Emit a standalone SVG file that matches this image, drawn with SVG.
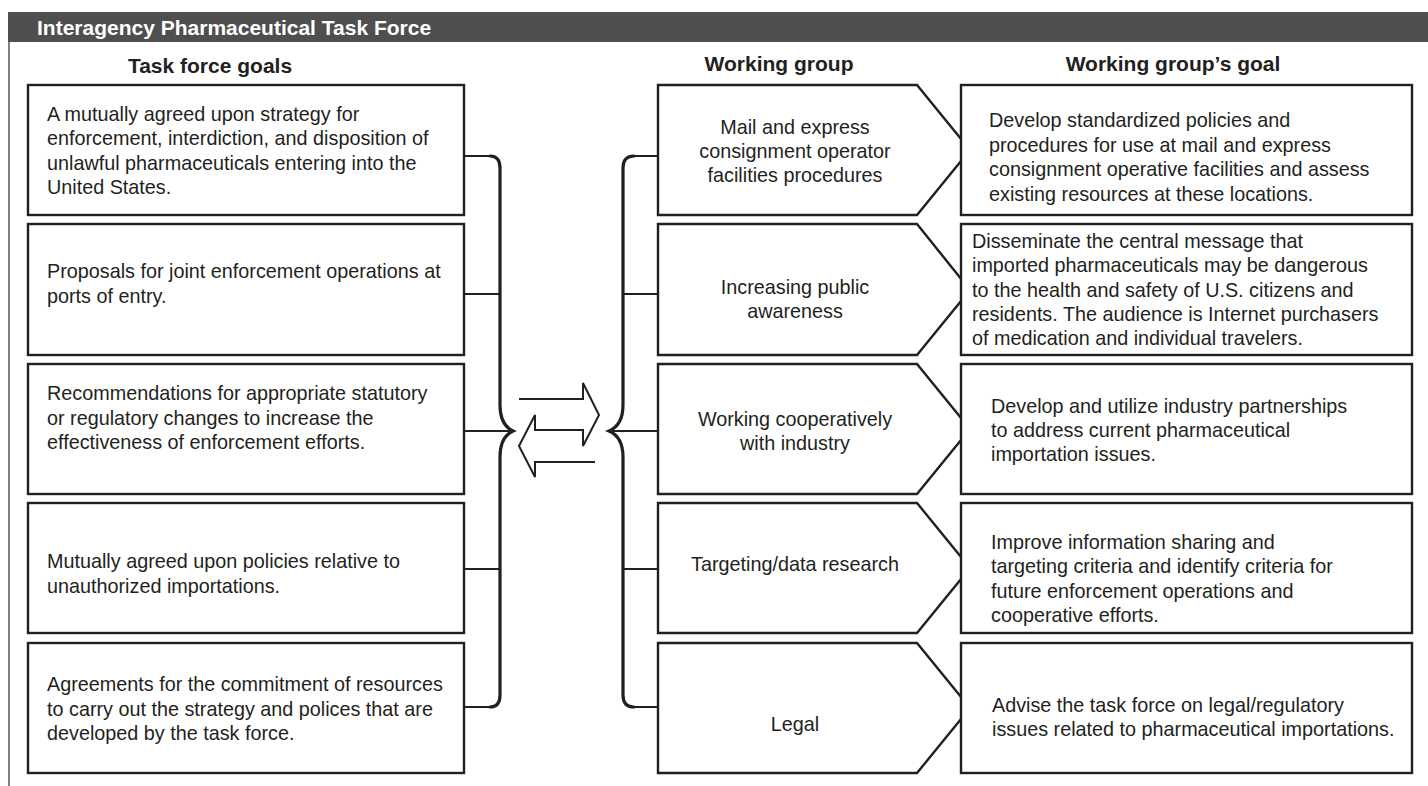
<svg xmlns="http://www.w3.org/2000/svg" width="1428" height="786" viewBox="0 0 1428 786">
<style>
text{font-family:"Liberation Sans",Arial,sans-serif;fill:#231f20;}
.t{font-size:19.8px;}
.h{font-size:21px;font-weight:bold;}
.c{text-anchor:middle;}
.box{fill:#fff;stroke:#231f20;stroke-width:2.4;}
.ln{fill:none;stroke:#231f20;stroke-width:2;}
.br{fill:none;stroke:#231f20;stroke-width:3.2;stroke-linecap:round;}
</style>
<rect width="1428" height="786" fill="#fff"/>
<g id="frame">
<rect x="8" y="12" width="1420" height="30" fill="#4f4f4f"/>
<line x1="9" y1="42" x2="9" y2="786" stroke="#555" stroke-width="1.5"/>
<text x="37" y="35" style="font-size:21px;font-weight:bold;fill:#fff">Interagency Pharmaceutical Task Force</text>
<text class="h c" x="210" y="73">Task force goals</text>
<text class="h c" x="779" y="71">Working group</text>
<text class="h c" x="1173" y="71">Working group’s goal</text>
</g>
<g id="connectors">
<path class="ln" d="M464,156H493M464,294H500M464,431H511M464,569H500M464,707H493"/>
<path class="br" d="M490,156Q500,156 500,168V405Q500,425 513,431Q500,437 500,457V695Q500,707 490,707"/>
<path class="ln" d="M632,156H658M623,294H658M611,431H658M623,569H658M632,707H658"/>
<path class="br" d="M634,156Q623,156 623,168V405Q623,425 609,431Q623,437 623,457V695Q623,707 634,707"/>
<path class="ln" stroke-linejoin="miter" d="M519,399H583V383L599,415L583,446V430H535V415L519,446L535,477V462H595"/>
</g>
<g id="goal1"><rect class="box" x="28" y="85" width="436" height="130"/>
<text class="t"><tspan x="47" y="120.5">A mutually agreed upon strategy for</tspan><tspan x="47" y="145">enforcement, interdiction, and disposition of</tspan><tspan x="47" y="169.5">unlawful pharmaceuticals entering into the</tspan><tspan x="47" y="194">United States.</tspan></text></g>
<g id="goal2"><rect class="box" x="28" y="224" width="436" height="131"/>
<text class="t"><tspan x="47" y="278">Proposals for joint enforcement operations at</tspan><tspan x="47" y="302.5">ports of entry.</tspan></text></g>
<g id="goal3"><rect class="box" x="28" y="364" width="436" height="130"/>
<text class="t"><tspan x="47" y="400">Recommendations for appropriate statutory</tspan><tspan x="47" y="424.5">or regulatory changes to increase the</tspan><tspan x="47" y="449">effectiveness of enforcement efforts.</tspan></text></g>
<g id="goal4"><rect class="box" x="28" y="503" width="436" height="130"/>
<text class="t"><tspan x="47" y="568">Mutually agreed upon policies relative to</tspan><tspan x="47" y="592.5">unauthorized importations.</tspan></text></g>
<g id="goal5"><rect class="box" x="28" y="643" width="436" height="130"/>
<text class="t"><tspan x="47" y="691">Agreements for the commitment of resources</tspan><tspan x="47" y="715.5">to carry out the strategy and polices that are</tspan><tspan x="47" y="740">developed by the task force.</tspan></text></g>
<g id="wg1"><path class="box" d="M658,85H917L970,150L917,215H658Z"/>
<text class="t c"><tspan x="795" y="134">Mail and express</tspan><tspan x="795" y="158">consignment operator</tspan><tspan x="795" y="182">facilities procedures</tspan></text></g>
<g id="wg2"><path class="box" d="M658,224H917L970,290L917,355H658Z"/>
<text class="t c"><tspan x="795" y="294">Increasing public</tspan><tspan x="795" y="318">awareness</tspan></text></g>
<g id="wg3"><path class="box" d="M658,364H917L970,429L917,494H658Z"/>
<text class="t c"><tspan x="795" y="426">Working cooperatively</tspan><tspan x="795" y="450">with industry</tspan></text></g>
<g id="wg4"><path class="box" d="M658,503H917L970,568L917,633H658Z"/>
<text class="t c"><tspan x="795" y="571">Targeting/data research</tspan></text></g>
<g id="wg5"><path class="box" d="M658,643H917L970,708L917,773H658Z"/>
<text class="t c"><tspan x="795" y="731">Legal</tspan></text></g>
<g id="goalr1"><rect class="box" x="961" y="85" width="451" height="130"/>
<text class="t"><tspan x="989" y="127">Develop standardized policies and</tspan><tspan x="989" y="151.5">procedures for use at mail and express</tspan><tspan x="989" y="176">consignment operative facilities and assess</tspan><tspan x="989" y="200.5">existing resources at these locations.</tspan></text></g>
<g id="goalr2"><rect class="box" x="961" y="224" width="451" height="131"/>
<text class="t"><tspan x="972" y="248">Disseminate the central message that</tspan><tspan x="972" y="272.3">imported pharmaceuticals may be dangerous</tspan><tspan x="972" y="296.5">to the health and safety of U.S. citizens and</tspan><tspan x="972" y="320.8">residents. The audience is Internet purchasers</tspan><tspan x="972" y="345">of medication and individual travelers.</tspan></text></g>
<g id="goalr3"><rect class="box" x="961" y="364" width="451" height="130"/>
<text class="t"><tspan x="991" y="412.7">Develop and utilize industry partnerships</tspan><tspan x="991" y="437">to address current pharmaceutical</tspan><tspan x="991" y="461.3">importation issues.</tspan></text></g>
<g id="goalr4"><rect class="box" x="961" y="503" width="451" height="130"/>
<text class="t"><tspan x="991" y="549">Improve information sharing and</tspan><tspan x="991" y="573.4">targeting criteria and identify criteria for</tspan><tspan x="991" y="597.6">future enforcement operations and</tspan><tspan x="991" y="622">cooperative efforts.</tspan></text></g>
<g id="goalr5"><rect class="box" x="961" y="643" width="451" height="130"/>
<text class="t"><tspan x="992" y="712">Advise the task force on legal/regulatory</tspan><tspan x="992" y="736">issues related to pharmaceutical importations.</tspan></text></g>
</svg>
